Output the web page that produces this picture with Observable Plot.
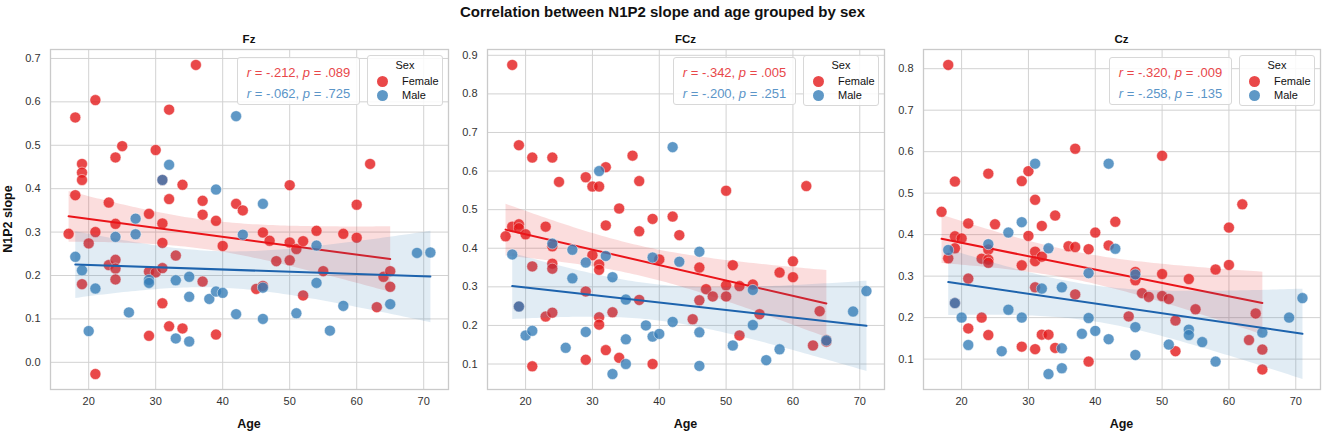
<!DOCTYPE html>
<html><head><meta charset="utf-8">
<script src="https://cdn.jsdelivr.net/npm/d3@7"></script>
<script src="https://cdn.jsdelivr.net/npm/@observablehq/plot@0.6"></script>
<style>
body{margin:0;background:#fff;font-family:"Liberation Sans",Arial,sans-serif;color:#262626;}
#root{position:relative;width:1325px;height:435px;overflow:hidden;background:#fff;}
.abs{position:absolute;}
.maintitle{left:0;width:1325px;top:3px;text-align:center;font-weight:bold;font-size:15px;color:#111;}
.ptitle{font-weight:bold;font-size:11.5px;text-align:center;color:#111;}
.xlab{font-weight:bold;font-size:12.5px;text-align:center;color:#111;}
.ylab{font-weight:bold;font-size:12.5px;color:#111;transform:rotate(-90deg);transform-origin:center;white-space:nowrap;text-align:center;}
.annot{border:1px solid #d8d8d8;border-radius:3px;background:rgba(255,255,255,0.85);width:121px;height:46px;font-size:13px;text-align:center;}
.annot div{position:absolute;left:0;width:100%;}
.legend{border:1px solid #d8d8d8;border-radius:3px;background:rgba(255,255,255,0.85);width:74px;height:49px;font-size:11px;color:#111;}
.sw{position:absolute;width:11px;height:11px;border-radius:50%;}
</style>
</head><body>
<div id="root"></div>
<script>
// ---------- data ----------
const title = "Correlation between N1P2 slope and age grouped by sex";
const channels = ["Fz", "FCz", "Cz"];
const sexes = ["Female", "Male"];

const femaleAge = [17,18,18,19,19,19,19,20,21,21,21,23,23,24,24,24,24,24,25,29,29,29,30,30,31,31,31,31,31,32,32,32,33,34,34,36,37,37,37,39,39,40,42,43,45,46,46,47,48,50,50,50,51,52,52,54,55,58,60,60,62,63,64,65,65];
const femaleFz = [0.296, 0.564,0.385, 0.457,0.437,0.42,0.18, 0.274, 0.604,0.30,-0.027, 0.368,0.224, 0.472,0.319,0.236,0.216,0.191, 0.498, 0.342,0.209,0.061, 0.489,0.207, 0.42,0.32,0.275,0.217,0.136, 0.582,0.376,0.083, 0.246, 0.409,0.078, 0.685, 0.372,0.34,0.186, 0.326,0.064, 0.268, 0.365, 0.35, 0.169, 0.299,0.176, 0.28, 0.233, 0.408,0.276,0.235, 0.261, 0.279,0.154, 0.303, 0.21, 0.296, 0.363,0.287, 0.457, 0.127, 0.197, 0.21,0.174];
const femaleFCz = [0.431, 0.875,0.456, 0.667,0.462,0.452,0.249, 0.436, 0.635,0.353,0.094, 0.456,0.223, 0.635,0.405,0.36,0.347,0.233, 0.572, 0.584,0.288,0.111, 0.56,0.382, 0.56,0.358,0.344,0.221,0.202, 0.61,0.459,0.136, 0.234, 0.503,0.116, 0.64, 0.574,0.444,0.266, 0.476,0.1, 0.371, 0.482, 0.434, 0.216, 0.35,0.265, 0.294, 0.275, 0.549,0.304,0.275, 0.356, 0.302,0.174, 0.306, 0.229, 0.337, 0.366,0.325, 0.561, 0.148, 0.237, 0.162,0.158];
const femaleCz = [0.455, 0.809,0.343, 0.528,0.396,0.367,0.235, 0.391, 0.427,0.294,0.174, 0.342,0.2, 0.547,0.364,0.34,0.332,0.158, 0.425, 0.529,0.326,0.13, 0.553,0.397, 0.484,0.359,0.336,0.273,0.124, 0.421,0.347,0.159, 0.159, 0.446,0.127, 0.372, 0.607,0.37,0.256, 0.365,0.094, 0.405, 0.374, 0.431, 0.203, 0.31,0.29, 0.259, 0.25, 0.59,0.305,0.252, 0.245, 0.193,0.119, 0.293, 0.22, 0.316, 0.417,0.327, 0.473, 0.146, 0.21, 0.123,0.075];

const maleAge = [18,19,20,21,24,26,27,27,29,29,31,32,33,33,35,35,35,38,39,39,40,42,42,43,46,46,46,51,54,54,56,58,65,69,71];
const maleFz = [0.243,0.212,0.072,0.17,0.289,0.115,0.331,0.295,0.19,0.183,0.42,0.455,0.189,0.055,0.197,0.151,0.048,0.146,0.398,0.163,0.16,0.567,0.111,0.294,0.365,0.172,0.1,0.113,0.269,0.183,0.073,0.13,0.134,0.252,0.253];
const maleFCz = [0.384,0.249,0.174,0.186,0.412,0.142,0.396,0.322,0.363,0.183,0.6,0.38,0.325,0.074,0.267,0.164,0.1,0.2,0.376,0.171,0.178,0.662,0.209,0.365,0.391,0.182,0.095,0.148,0.292,0.201,0.11,0.138,0.161,0.236,0.289];
const maleCz = [0.363,0.235,0.2,0.134,0.377,0.119,0.405,0.219,0.43,0.2,0.571,0.27,0.367,0.064,0.273,0.126,0.078,0.161,0.307,0.199,0.168,0.571,0.148,0.366,0.304,0.177,0.11,0.135,0.171,0.158,0.141,0.094,0.164,0.2,0.247];

const rFemale = ["-.212", "-.342", "-.320"];
const pFemale = [".089", ".005", ".009"];
const rMale = ["-.062", "-.200", "-.258"];
const pMale = [".725", ".251", ".135"];

const xTicks = [20, 30, 40, 50, 60, 70];
const yTicksFz = [0.0, 0.1, 0.2, 0.3, 0.4, 0.5, 0.6, 0.7];
const yTicksFCz = [0.1, 0.2, 0.3, 0.4, 0.5, 0.6, 0.7, 0.8, 0.9];
const yTicksCz = [0.1, 0.2, 0.3, 0.4, 0.5, 0.6, 0.7, 0.8];

// ---------- styling / layout ----------
const dotFemale = "#e41a1c", dotMale = "#377eb8";
const txtFemale = "#e8474a", txtMale = "#5b95c8";
const lineFemale = "#ea1419", lineMale = "#1d63ad";
const layout = [
  {left: 0,   width: 460, ml: 50, mr: 12},
  {left: 460, width: 437, ml: 27, mr: 13},
  {left: 897, width: 428, ml: 26, mr: 5}
];
const top0 = 28, H = 407, MT = 21, MB = 46;

const femaleVals = [femaleFz, femaleFCz, femaleCz];
const maleVals = [maleFz, maleFCz, maleCz];
const yTicksAll = [yTicksFz, yTicksFCz, yTicksCz];

const root = document.getElementById("root");
function add(cls, html, css) {
  const d = document.createElement("div");
  d.className = "abs " + cls;
  d.innerHTML = html;
  Object.assign(d.style, css || {});
  root.appendChild(d);
  return d;
}
add("maintitle", title);

const pad = (ext) => { const m = (ext[1] - ext[0]) * 0.05; return [ext[0] - m, ext[1] + m]; };
const xDom = pad(d3.extent([...femaleAge, ...maleAge]));

channels.forEach((ch, k) => {
  const L = layout[k];
  const fem = femaleAge.map((a, i) => ({age: a, value: femaleVals[k][i]}));
  const mal = maleAge.map((a, i) => ({age: a, value: maleVals[k][i]}));
  const yDom = pad(d3.extent([...femaleVals[k], ...maleVals[k]]));
  const yt = yTicksAll[k];

  const dotOpts = (c) => ({x: "age", y: "value", r: 5.5, fill: c, fillOpacity: 0.8, stroke: "white", strokeWidth: 0.6, strokeOpacity: 0.8});
  const regOpts = (lc, fc) => ({x: "age", y: "value", stroke: lc, strokeWidth: 2, fill: fc, fillOpacity: 0.15, ci: 0.95});

  const svg = Plot.plot({
    width: L.width, height: H,
    marginLeft: L.ml, marginRight: L.mr, marginTop: MT, marginBottom: MB,
    style: {fontFamily: '"Liberation Sans", Arial, sans-serif', fontSize: "11px", color: "#333", background: "transparent"},
    x: {domain: xDom, ticks: xTicks, tickSize: 0, tickPadding: 8, label: null},
    y: {domain: yDom, ticks: yt, tickSize: 0, tickPadding: 10, tickFormat: ".1f", label: null},
    marks: [
      Plot.gridX(xTicks, {stroke: "#d2d2d2", strokeOpacity: 1, strokeWidth: 1}),
      Plot.gridY(yt, {stroke: "#d2d2d2", strokeOpacity: 1, strokeWidth: 1}),
      Plot.frame({stroke: "#cacaca", strokeWidth: 1.3}),
      Plot.dot(fem, dotOpts(dotFemale)),
      Plot.linearRegressionY(fem, regOpts(lineFemale, dotFemale)),
      Plot.dot(mal, dotOpts(dotMale)),
      Plot.linearRegressionY(mal, regOpts(lineMale, dotMale))
    ]
  });
  const holder = add("", "", {left: L.left + "px", top: top0 + "px", width: L.width + "px", height: H + "px"});
  holder.appendChild(svg);

  const fl = L.left + L.ml, fr = L.left + L.width - L.mr;
  const cx = (fl + fr) / 2;
  add("ptitle", ch, {left: (cx - 60) + "px", width: "120px", top: "33px"});
  add("xlab", "Age", {left: (cx - 60) + "px", width: "120px", top: "417px"});

  const an = add("annot", "", {left: (fr - 211) + "px", top: "57px"});
  an.innerHTML = `<div style="top:7px;color:${txtFemale}"><i>r</i> = ${rFemale[k]}, <i>p</i> = ${pFemale[k]}</div>` +
                 `<div style="top:28px;color:${txtMale}"><i>r</i> = ${rMale[k]}, <i>p</i> = ${pMale[k]}</div>`;

  const lg = add("legend", "", {left: (fr - 81) + "px", top: "55px"});
  lg.innerHTML = `<div class="abs" style="left:0;width:100%;top:3px;text-align:center">Sex</div>` +
    `<div class="sw" style="left:9px;top:20px;background:${dotFemale};opacity:0.8"></div>` +
    `<div class="abs" style="left:34px;top:19px">${sexes[0]}</div>` +
    `<div class="sw" style="left:9px;top:34px;background:${dotMale};opacity:0.8"></div>` +
    `<div class="abs" style="left:34px;top:33px">${sexes[1]}</div>`;
});
add("ylab", "N1P2 slope", {left: "-32px", width: "80px", top: "212px"});
</script>
</body></html>
